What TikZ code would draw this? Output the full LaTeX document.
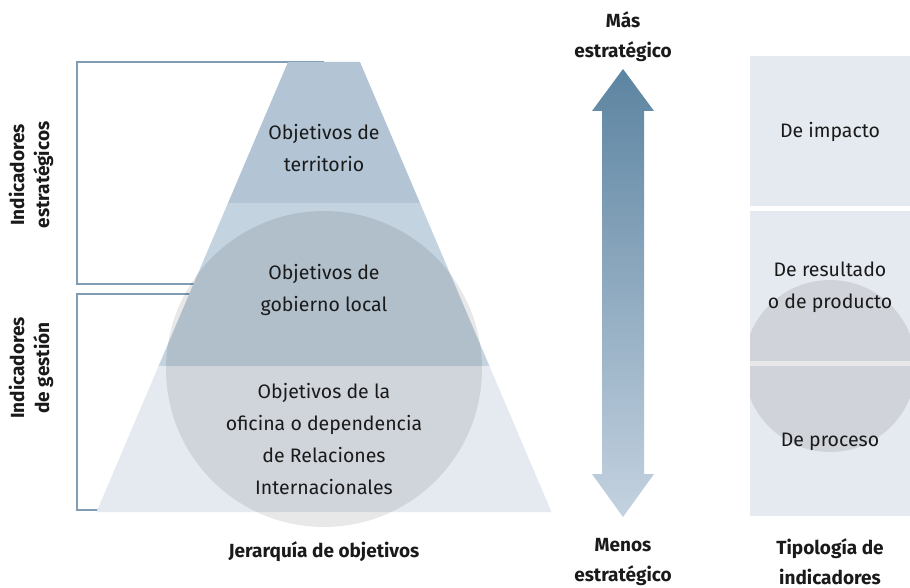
\documentclass[tikz,border=0pt]{standalone}
\usepackage{fontspec}
\setmainfont{Fira Sans}
\definecolor{bracketline}{HTML}{7F9DB5}
\definecolor{bandtop}{HTML}{B3C5D5}
\definecolor{bandmid}{HTML}{C3D3E0}
\definecolor{bandlow}{HTML}{E5EAF1}
\definecolor{typebox}{HTML}{E5E9F0}
\definecolor{arrowdark}{HTML}{5C84A1}
\definecolor{arrowlight}{HTML}{C4D2E0}
\definecolor{textdark}{HTML}{1A1A1A}
\begin{document}
\begin{tikzpicture}[x=1pt, y=-1pt,
	every node/.style={text=textdark, align=center, font=\fontsize{19.5}{32}\selectfont},
	boldlabel/.style={font=\bfseries\fontsize{19}{30}\selectfont},
	sidelabel/.style={font=\bfseries\fontsize{19}{25}\selectfont, rotate=90},
	overlay disc/.style={fill=black, fill opacity=0.09}]
				\useasboundingbox (0,0) rectangle (910,588);

				% Brackets for the two kinds of indicators
				\draw[bracketline, line width=1.2pt] (324,62) -- (77,62) -- (77,284) -- (324,284);
				\draw[bracketline, line width=1.2pt] (324,294) -- (77,294) -- (77,510) -- (324,510);

				% Pyramid bands
				\fill[bandtop] (288,62) -- (360,62) -- (420,203) -- (228,203) -- cycle;
				\fill[bandmid] (228,203) -- (420,203) -- (489.4,366) -- (158.6,366) -- cycle;
				\fill[bandlow] (158.6,366) -- (489.4,366) -- (551.5,512) -- (96.5,512) -- cycle;
				\fill[overlay disc] (324,369) circle[radius=158];

				% Double arrow
				\shade[top color=arrowdark, bottom color=arrowlight]
					(623,69) -- (654,111) -- (644,111) -- (644,474) -- (654,474) -- (623,517)
					-- (592,474) -- (602,474) -- (602,111) -- (592,111) -- cycle;

				% Typology boxes
				\fill[typebox] (750,56) rectangle (910,206);
				\fill[typebox] (750,211) rectangle (910,361);
				\fill[typebox] (750,366) rectangle (910,516);
				\begin{scope}
					\clip (750,56) rectangle (910,516);
					\fill[overlay disc] (830,366) circle[radius=86];
				\end{scope}

				% Manual node positions
				\node (terr) at (324,148) {Objetivos de\\territorio};
				\node (gob) at (324,290) {Objetivos de\\gobierno local};
				\node (ofi) at (324,439) {Objetivos de la\\oficina o dependencia\\de Relaciones\\Internacionales};
				\node (imp) at (830,132) {De impacto};
				\node (res) at (830,287) {De resultado\\o de producto};
				\node (proc) at (830,442) {De proceso};

				\node[boldlabel] (mas) at (623,37) {Más\\estratégico};
				\node[boldlabel] (menos) at (623,562) {Menos\\estratégico};
				\node[boldlabel] (tipo) at (830,562) {Tipología de\\indicadores};
				\node[boldlabel] (jer) at (324,552) {Jerarquía de objetivos};

				\node[sidelabel] (estr) at (31,175) {Indicadores\\estratégicos};
				\node[sidelabel] (gest) at (31,368) {Indicadores\\de gestión};

			\end{tikzpicture}
\end{document}
